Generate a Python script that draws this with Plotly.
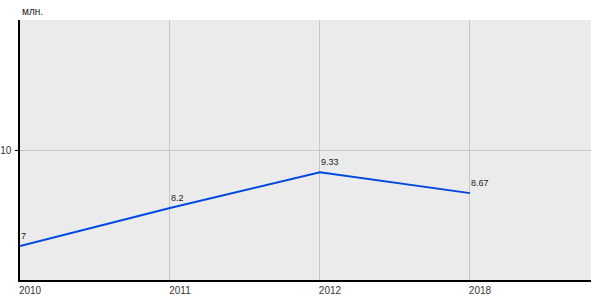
import plotly.graph_objects as go

years = ["2010", "2011", "2012", "2018"]
values = [7, 8.2, 9.33, 8.67]
value_labels = ["7", "8.2", "9.33", "8.67"]
y_ticks = [10]
unit_label = "млн."

xs = list(range(len(years)))

fig = go.Figure()
fig.add_trace(go.Scatter(
    x=xs, y=values, mode="lines",
    line=dict(color="#0048e0", width=2),
    hoverinfo="skip", showlegend=False,
))

annotations = [dict(
    x=x, y=v, text=t, xref="x", yref="y", xanchor="left", yanchor="bottom",
    showarrow=False, yshift=3, xshift=-1,
    font=dict(family="Liberation Sans, Arial", size=9, color="#222222"),
) for x, v, t in zip(xs, values, value_labels)]
annotations.append(dict(
    text=unit_label, xref="paper", yref="paper", x=0, y=1,
    xanchor="left", yanchor="bottom", yshift=1, showarrow=False,
    font=dict(size=10, color="#222222"),
))

fig.update_layout(
    width=600, height=300,
    margin=dict(l=20, r=9, t=20, b=20, autoexpand=False),
    paper_bgcolor="white", plot_bgcolor="#ebebeb",
    font=dict(family="Liberation Sans, Arial", size=10, color="#333333"),
    annotations=annotations,
)
fig.update_xaxes(
    range=[0, 3.807], tickmode="array", tickvals=xs, ticktext=years,
    showgrid=True, gridcolor="#c8c8c8", gridwidth=1,
    showline=True, linecolor="black", linewidth=1.5,
    ticks="", ticklabelshift=10, ticklabelstandoff=0,
    zeroline=False, tickfont=dict(size=10, color="#333333"),
    automargin=False,
)
fig.update_yaxes(
    range=[5.93, 14.13], tickmode="array", tickvals=y_ticks,
    ticktext=[str(v) for v in y_ticks],
    showgrid=True, gridcolor="#c8c8c8", gridwidth=1,
    showline=True, linecolor="black", linewidth=1.5,
    ticks="outside", ticklen=3, tickcolor="black", tickwidth=1,
    zeroline=False, tickfont=dict(size=10, color="#333333"),
    ticklabelstandoff=2, automargin=False,
)

fig.write_html("out.html")
